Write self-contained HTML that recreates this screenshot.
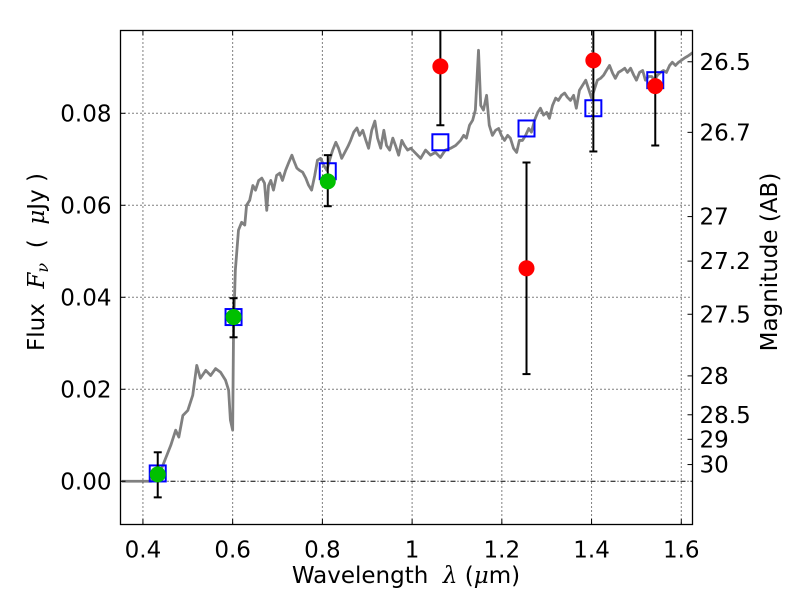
<!DOCTYPE html>
<html><head><meta charset="utf-8"><style>
body{margin:0;background:#fff;}
svg{display:block;font-family:"DejaVu Sans","Liberation Sans",sans-serif;}
text{white-space:pre;}
</style></head><body>
<svg id="chart" width="800" height="600" viewBox="0 0 800 600"></svg>
<script>
const xTicks=[0.4,0.6,0.8,1.0,1.2,1.4,1.6];
const xTickLabels=["0.4","0.6","0.8","1","1.2","1.4","1.6"];
const yTicks=[0,0.02,0.04,0.06,0.08];
const yTickLabels=["0.00","0.02","0.04","0.06","0.08"];
const magTicks=[26.5,26.7,27,27.2,27.5,28,28.5,29,30];
const magTickLabels=["26.5","26.7","27","27.2","27.5","28","28.5","29","30"];
const specWave=[0.353,0.418,0.440,0.462,0.473,0.480,0.489,0.500,0.511,0.520,0.528,0.540,0.551,0.562,0.573,0.584,0.591,0.595,0.600,0.602,0.606,0.613,0.620,0.627,0.631,0.638,0.645,0.651,0.658,0.665,0.671,0.676,0.680,0.685,0.691,0.698,0.705,0.711,0.718,0.725,0.732,0.736,0.743,0.749,0.756,0.763,0.769,0.776,0.783,0.789,0.796,0.803,0.810,0.816,0.823,0.830,0.836,0.843,0.850,0.857,0.863,0.870,0.877,0.883,0.890,0.897,0.903,0.910,0.917,0.923,0.930,0.937,0.943,0.950,0.957,0.963,0.970,0.977,0.983,0.990,0.997,1.008,1.019,1.030,1.041,1.052,1.063,1.074,1.086,1.097,1.108,1.115,1.121,1.128,1.135,1.141,1.148,1.153,1.159,1.166,1.172,1.179,1.186,1.193,1.199,1.206,1.213,1.219,1.226,1.233,1.239,1.246,1.253,1.260,1.266,1.273,1.280,1.286,1.293,1.300,1.306,1.313,1.320,1.326,1.333,1.340,1.346,1.353,1.360,1.366,1.373,1.380,1.387,1.393,1.400,1.407,1.413,1.420,1.427,1.433,1.440,1.447,1.453,1.460,1.467,1.474,1.480,1.487,1.494,1.500,1.507,1.514,1.520,1.527,1.534,1.540,1.547,1.554,1.560,1.567,1.574,1.580,1.587,1.594,1.600,1.607,1.614,1.620,1.627];
const specFlux=[0,0,0.0024,0.0078,0.0111,0.0096,0.0143,0.0154,0.0187,0.0252,0.0224,0.0241,0.0230,0.0245,0.0237,0.0220,0.0198,0.0133,0.0111,0.0330,0.0459,0.0546,0.0563,0.0557,0.0600,0.0611,0.0643,0.0633,0.0654,0.0659,0.0648,0.0589,0.0643,0.0654,0.0633,0.0665,0.0670,0.0654,0.0676,0.0693,0.0709,0.0698,0.0681,0.0676,0.0672,0.0659,0.0644,0.0633,0.0665,0.0698,0.0702,0.0687,0.0676,0.0698,0.0720,0.0737,0.0724,0.0702,0.0715,0.0728,0.0741,0.0759,0.0768,0.0752,0.0763,0.0741,0.0724,0.0763,0.0783,0.0746,0.0724,0.0763,0.0730,0.0720,0.0746,0.0730,0.0709,0.0741,0.0730,0.0720,0.0724,0.0713,0.0702,0.0720,0.0709,0.0715,0.0704,0.0720,0.0724,0.0730,0.0741,0.0752,0.0746,0.0774,0.0785,0.0807,0.0937,0.0817,0.0807,0.0839,0.0774,0.0752,0.0763,0.0767,0.0752,0.0741,0.0752,0.0746,0.0724,0.0715,0.0741,0.0741,0.0752,0.0767,0.0759,0.0785,0.0802,0.0811,0.0796,0.0802,0.0789,0.0817,0.0833,0.0828,0.0839,0.0844,0.0835,0.0828,0.0839,0.0811,0.0850,0.0861,0.0872,0.0854,0.0833,0.0854,0.0872,0.0876,0.0883,0.0893,0.0904,0.0887,0.0876,0.0889,0.0893,0.0898,0.0889,0.0898,0.0883,0.0872,0.0889,0.0893,0.0872,0.0880,0.0880,0.0872,0.0883,0.0889,0.0893,0.0889,0.0904,0.0911,0.0904,0.0911,0.0915,0.0920,0.0924,0.0928,0.0933];
const modelWave=[0.433,0.602,0.812,1.063,1.255,1.404,1.542];
const modelFlux=[0.0017,0.0357,0.0674,0.0737,0.0767,0.0811,0.0872];
const detWave=[0.433,0.602,0.812];
const detFlux=[0.0015,0.0357,0.0652];
const detErrLo=[-0.0035,0.0313,0.0598];
const detErrHi=[0.0063,0.0398,0.0709];
const nirWave=[1.063,1.255,1.404,1.542];
const nirFlux=[0.0902,0.0463,0.0915,0.0859];
const nirErrLo=[0.0774,0.0233,0.0717,0.0730];
const nirErrHi=[0.12,0.0693,0.12,0.12];

const L=120.5,R=692.5,T=30.5,B=524.5;
const X0=0.35,X1=1.625,Y0=-0.0094,Y1=0.0980;
const sx=v=>L+(v-X0)/(X1-X0)*(R-L);
const sy=v=>B-(v-Y0)/(Y1-Y0)*(B-T);
const NS="http://www.w3.org/2000/svg";
const svg=document.getElementById('chart');
function mk(tag,attrs,parent){const e=document.createElementNS(NS,tag);for(const k in attrs)e.setAttribute(k,attrs[k]);(parent||svg).appendChild(e);return e;}
const defs=mk('defs',{});const cp=mk('clipPath',{id:'clip'},defs);mk('rect',{x:L,y:T,width:R-L,height:B-T},cp);
const plot=mk('g',{'clip-path':'url(#clip)'});


xTicks.forEach((v,i)=>{const g=mk('line',{x1:sx(v),x2:sx(v),y1:T,y2:B,stroke:'#000','stroke-width':1,'stroke-dasharray':'1,3'},plot);

});
yTicks.forEach((v,i)=>{const g=mk('line',{x1:L,x2:R,y1:sy(v),y2:sy(v),stroke:'#000','stroke-width':1,'stroke-dasharray':v===0?'5,2,1,2':'1,3'},plot);

});
const sp=mk('polyline',{points:specWave.map((w,i)=>sx(w)+','+sy(specFlux[i])).join(' '),fill:'none',stroke:'#808080','stroke-width':2.8,'stroke-linejoin':'round'},plot);


modelWave.forEach((w,i)=>{const r=mk('rect',{x:sx(w)-8,y:sy(modelFlux[i])-8,width:16,height:16,fill:'none',stroke:'#0000ff','stroke-width':2},plot);

});
function errbar(w,lo,hi){const x=sx(w);const g=mk('g',{},plot);
mk('line',{x1:x,x2:x,y1:sy(hi),y2:sy(lo),stroke:'#000','stroke-width':2},g);
mk('line',{x1:x-4,x2:x+4,y1:sy(hi),y2:sy(hi),stroke:'#000','stroke-width':2},g);
mk('line',{x1:x-4,x2:x+4,y1:sy(lo),y2:sy(lo),stroke:'#000','stroke-width':2},g);

}
detWave.forEach((w,i)=>{errbar(w,detErrLo[i],detErrHi[i]);const c=mk('circle',{cx:sx(w),cy:sy(detFlux[i]),r:8,fill:'#00c000'},plot);

});
nirWave.forEach((w,i)=>{errbar(w,nirErrLo[i],nirErrHi[i]);const c=mk('circle',{cx:sx(w),cy:sy(nirFlux[i]),r:8,fill:'#ff0000'},plot);

});
const fr=mk('rect',{x:L,y:T,width:R-L,height:B-T,fill:'none',stroke:'#000','stroke-width':1.3});


xTicks.forEach((v,i)=>{const x=sx(v);mk('line',{x1:x,x2:x,y1:B,y2:B-5,stroke:'#000'});mk('line',{x1:x,x2:x,y1:T,y2:T+5,stroke:'#000'});
const t=mk('text',{x:x,y:B+33,'text-anchor':'middle','font-size':23});t.textContent=xTickLabels[i];

});
yTicks.forEach((v,i)=>{const y=sy(v);mk('line',{x1:L,x2:L+5,y1:y,y2:y,stroke:'#000'});
const t=mk('text',{x:L-9,y:y+8,'text-anchor':'end','font-size':23});t.textContent=yTickLabels[i];

});
magTicks.forEach((m,i)=>{const f=Math.pow(10,(23.9-m)/2.5);const y=sy(f);mk('line',{x1:R-5,x2:R,y1:y,y2:y,stroke:'#000'});
const t=mk('text',{x:R+7,y:y+8,'font-size':23});t.textContent=magTickLabels[i];

});
const xl=mk('text',{x:406,y:583,'text-anchor':'middle','font-size':23});
xl.innerHTML='Wavelength  <tspan font-style="italic" font-family="DejaVu Serif,serif">λ</tspan> (<tspan font-style="italic" font-family="DejaVu Serif,serif">μ</tspan>m)';


const yl=mk('text',{x:0,y:0,'text-anchor':'middle','font-size':23,transform:'translate(44,262) rotate(-90)'});
yl.innerHTML='Flux  <tspan font-style="italic" font-family="DejaVu Serif,serif">F</tspan><tspan font-style="italic" font-family="DejaVu Serif,serif" font-size="16" dy="4">ν</tspan><tspan dy="-4">  (  </tspan><tspan font-style="italic" font-family="DejaVu Serif,serif">μ</tspan>Jy )';


const ml=mk('text',{x:0,y:0,'text-anchor':'middle','font-size':23,transform:'translate(777,262) rotate(-90)'});
ml.textContent='Magnitude (AB)';


</script>
</body></html>
